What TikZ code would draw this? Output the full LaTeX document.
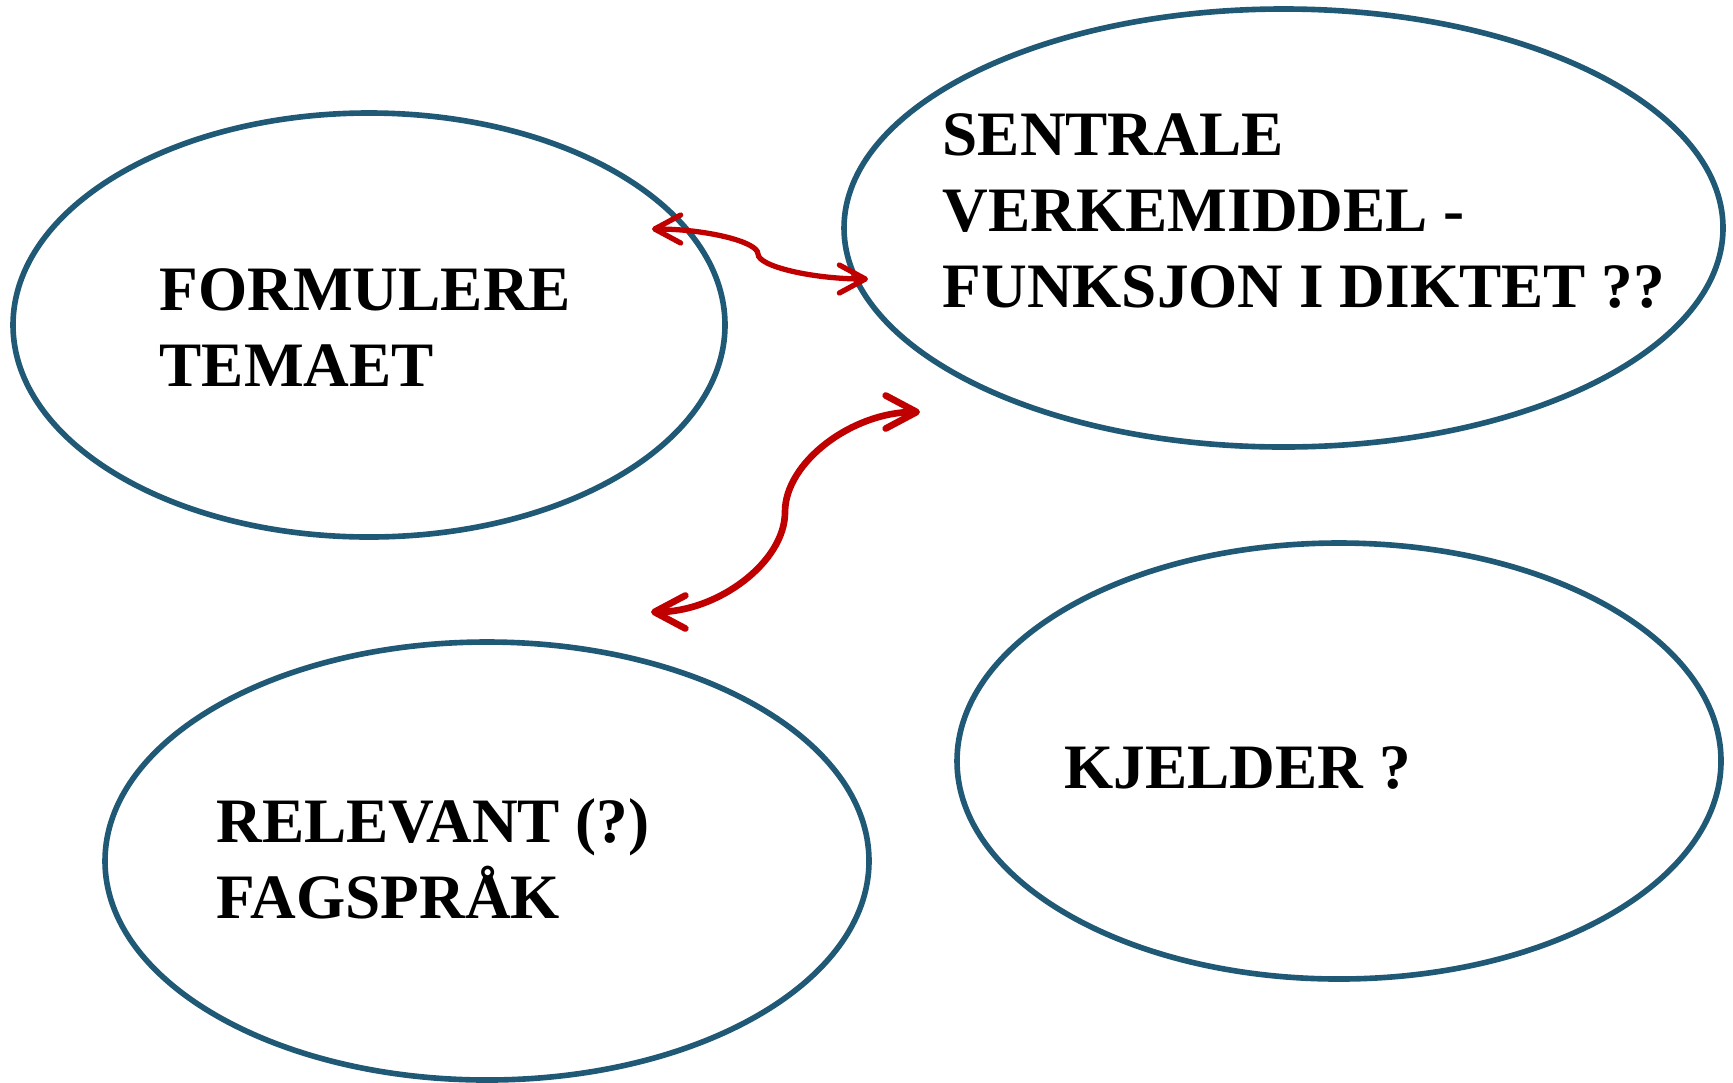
\documentclass[tikz,border=0pt]{standalone}
\usepackage{fontspec}
\setmainfont{Liberation Serif}
\usetikzlibrary{shapes.geometric,arrows.meta}
\definecolor{ringblue}{RGB}{31,89,117}
\definecolor{arrowred}{RGB}{192,0,0}
\tikzset{
  ring/.style={ellipse, draw=ringblue, line width=1.6pt, inner sep=0pt},
  label/.style={anchor=base west, inner sep=0pt, font=\bfseries\fontsize{18}{21.7}\selectfont},
  linkarrow/.style={draw=arrowred, line cap=round},
}
\newcommand{\lines}[1]{\begin{tabular}[t]{@{}l@{}}#1\end{tabular}}
\begin{document}
\begin{tikzpicture}
\useasboundingbox (0,0) rectangle (17.33,-10.82);
% ellipses
\node[ring, minimum width=7.12cm, minimum height=4.24cm] (e1) at (3.69,-3.25) {};
\node[ring, minimum width=8.79cm, minimum height=4.38cm] (e2) at (12.835,-2.28) {};
\node[ring, minimum width=7.64cm, minimum height=4.38cm] (e3) at (4.87,-8.61) {};
\node[ring, minimum width=7.64cm, minimum height=4.36cm] (e4) at (13.39,-7.61) {};
% texts
\node[label] (t1) at (1.59,-3.10) {\lines{FORMULERE\\TEMAET}};
\node[label] (t2) at (9.42,-1.55) {\lines{SENTRALE\\VERKEMIDDEL -\\FUNKSJON I DIKTET ??}};
\node[label] (t3) at (2.16,-8.42) {\lines{RELEVANT (?)\\FAGSPRÅK}};
\node[label] (t4) at (10.64,-7.88) {KJELDER ?};
% arrow end points
\coordinate (a1s) at (6.52,-2.29);
\coordinate (a1m) at (7.58,-2.54);
\coordinate (a1e) at (8.68,-2.79);
\coordinate (a2s) at (6.51,-6.12);
\coordinate (a2m) at (7.85,-5.12);
\coordinate (a2e) at (9.20,-4.12);
% arrows
\draw[linkarrow, line width=1.5pt,
  {Straight Barb[length=2.6mm,width=2.8mm,line cap=round,line join=round]}-{Straight Barb[length=2.6mm,width=2.8mm,line cap=round,line join=round]}]
  (a1s) .. controls (7.05,-2.29) and (7.58,-2.415) .. (a1m)
        .. controls (7.58,-2.665) and (8.13,-2.79) .. (a1e);
\draw[linkarrow, line width=1.9pt,
  {Straight Barb[length=3.1mm,width=3.3mm,line cap=round,line join=round]}-{Straight Barb[length=3.1mm,width=3.3mm,line cap=round,line join=round]}]
  (a2s) .. controls (7.18,-6.12) and (7.85,-5.62) .. (a2m)
        .. controls (7.85,-4.62) and (8.525,-4.12) .. (a2e);
\end{tikzpicture}
\end{document}
